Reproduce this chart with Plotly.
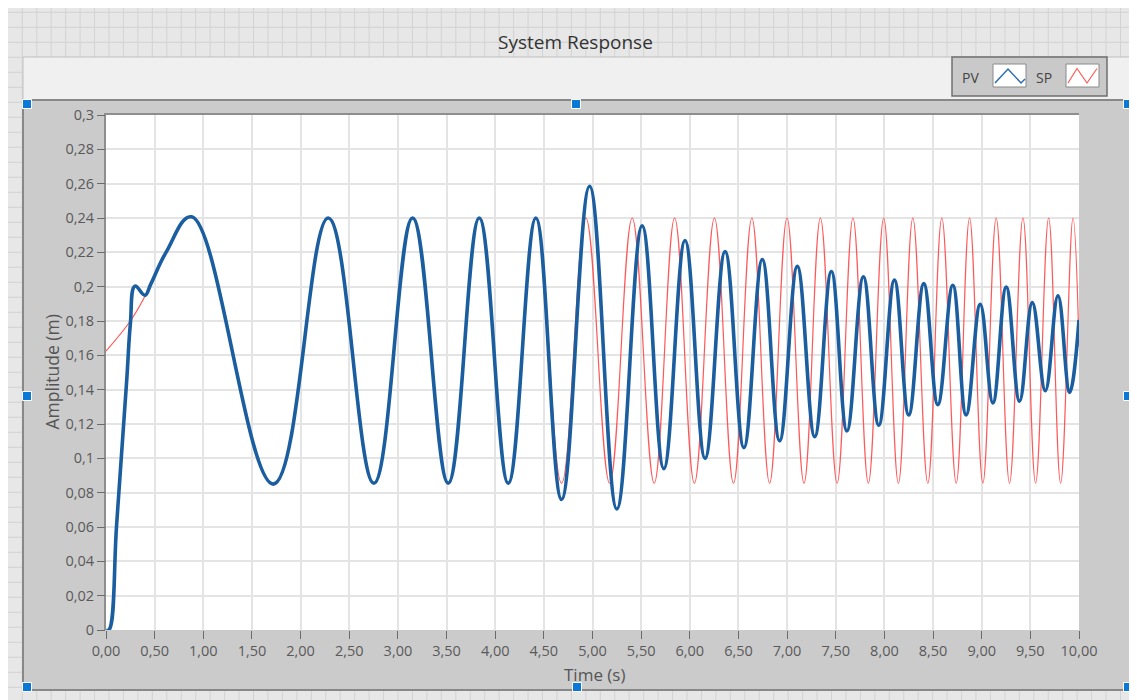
import plotly.graph_objects as go

# ---------------- data ----------------
sp_time = [0.0, 0.25, 0.40, 0.46, 0.62, 0.88, 1.72, 2.284, 2.753, 3.151, 3.517, 3.836,
           4.134, 4.418, 4.682, 4.932, 5.176, 5.408, 5.634, 5.844, 6.047, 6.253, 6.449,
           6.638, 6.820, 6.999, 7.174, 7.342, 7.514, 7.677, 7.835, 7.993, 8.144, 8.292,
           8.446, 8.590, 8.738, 8.875, 9.012, 9.149, 9.286, 9.424, 9.554, 9.688, 9.811,
           9.938, 10.0]
sp_value = [0.1625, 0.180, 0.1944, 0.2015, 0.2203, 0.2407, 0.085, 0.240, 0.0855, 0.240,
            0.0855, 0.240, 0.0855, 0.240, 0.0855, 0.240, 0.0855, 0.240, 0.0855, 0.240,
            0.0855, 0.240, 0.0855, 0.240, 0.0855, 0.240, 0.0855, 0.240, 0.0855, 0.240,
            0.0855, 0.240, 0.0855, 0.240, 0.0855, 0.240, 0.0855, 0.240, 0.0855, 0.240,
            0.0855, 0.240, 0.0855, 0.240, 0.0855, 0.240, 0.165]

pv_time = [0.0, 0.03, 0.11, 0.213, 0.25, 0.298, 0.40, 0.46, 0.62, 0.88, 1.72, 2.284,
           2.753, 3.151, 3.517, 3.836, 4.134, 4.418, 4.682, 4.970, 5.250, 5.510, 5.733,
           5.951, 6.157, 6.363, 6.556, 6.745, 6.923, 7.105, 7.284, 7.455, 7.615, 7.784,
           7.942, 8.103, 8.250, 8.405, 8.549, 8.703, 8.840, 8.985, 9.115, 9.252, 9.389,
           9.520, 9.654, 9.784, 9.904, 10.0]
pv_value = [0.0, 0.0, 0.062, 0.1456, 0.178, 0.2003, 0.195, 0.2015, 0.2203, 0.2407, 0.085,
            0.240, 0.0855, 0.240, 0.0855, 0.240, 0.0855, 0.240, 0.076, 0.2585, 0.0705,
            0.2355, 0.094, 0.2269, 0.100, 0.2205, 0.1062, 0.2158, 0.1102, 0.2118, 0.1126,
            0.2088, 0.116, 0.2058, 0.1193, 0.2038, 0.1253, 0.2018, 0.1313, 0.2008, 0.1253,
            0.1897, 0.1323, 0.1998, 0.1333, 0.1907, 0.1394, 0.1947, 0.1384, 0.1806]

x_tick_vals = [0, 0.5, 1, 1.5, 2, 2.5, 3, 3.5, 4, 4.5, 5, 5.5, 6, 6.5, 7, 7.5, 8, 8.5,
               9, 9.5, 10]
x_tick_text = ["0,00", "0,50", "1,00", "1,50", "2,00", "2,50", "3,00", "3,50", "4,00",
               "4,50", "5,00", "5,50", "6,00", "6,50", "7,00", "7,50", "8,00", "8,50",
               "9,00", "9,50", "10,00"]
y_tick_vals = [0, 0.02, 0.04, 0.06, 0.08, 0.1, 0.12, 0.14, 0.16, 0.18, 0.2, 0.22, 0.24,
               0.26, 0.28, 0.3]
y_tick_text = ["0", "0,02", "0,04", "0,06", "0,08", "0,1", "0,12", "0,14", "0,16",
               "0,18", "0,2", "0,22", "0,24", "0,26", "0,28", "0,3"]

# ---------------- geometry (screen pixels; page body has an 8px margin) ----------------
OFF = 8
W, H = 1137 - OFF, 700 - OFF
L, R, T, B = 106, 1079, 115, 630


def px(x):
    return (x - L) / (R - L)


def py(y):
    return (B - y) / (B - T)


FONT = "Open Sans"
shapes = []


def rect(x0, y0, x1, y1, fill, line="rgba(0,0,0,0)", lw=0):
    shapes.append(dict(type="rect", xref="paper", yref="paper", layer="below",
                       x0=px(x0), x1=px(x1), y0=py(y1), y1=py(y0),
                       fillcolor=fill, line=dict(color=line, width=lw)))


def path(points, color, width):
    d = ""
    for seg in points:
        for i, (x, y) in enumerate(seg):
            d += ("M" if i == 0 else "L") + f"{px(x):.5f},{py(y):.5f} "
    shapes.append(dict(type="path", xref="paper", yref="paper", layer="below",
                       path=d.strip(), line=dict(color=color, width=width)))


# background (LabVIEW panel grid)
grid_segs = []
gx = 22.3
while gx < 1140:
    grid_segs.append([(gx, OFF), (gx, 702)])
    gx += 14.45
gy = 12.3
while gy < 702:
    grid_segs.append([(OFF, gy), (1140, gy)])
    gy += 15.0
path(grid_segs, "#d3d3d3", 1)

# legend strip & frame
rect(23, 57, 1133, 100, "#f0f0f0", "#c2c2c2", 1)
rect(23, 100, 1132, 690, "#cbcbcb", "#888888", 2)
rect(L, T, R, B, "white")
path([[(105, B), (105, 114), (R, 114)]], "#8e8e8e", 2)

# legend box
rect(952, 57, 1107, 96, "#c9c9c9", "#6f6f6f", 1.5)
rect(993, 64, 1026, 87, "white", "#8a8a8a", 1)
rect(1066, 64, 1099, 87, "white", "#8a8a8a", 1)
path([[(995, 83), (1008, 69), (1021, 83), (1025, 79)]], "#2a6fb0", 1.5)
path([[(1068, 83), (1077, 68.5), (1087, 83), (1097, 68.5)]], "#ff5a5a", 1.2)

# selection handles
for hx, hy in [(27, 104), (576, 104), (1128, 104), (27, 396), (1128, 396),
               (27, 687), (577, 687), (1128, 687)]:
    rect(hx - 4.5, hy - 4.5, hx + 4.5, hy + 4.5, "#0a78d7", "white", 1)

annotations = [
    dict(text="System Response", x=px(575), y=py(42), xref="paper", yref="paper",
         showarrow=False, xanchor="center", yanchor="middle",
         font=dict(family=FONT, size=19, color="#333333")),
    dict(text="Time (s)", x=px(594), y=py(674), xref="paper", yref="paper",
         showarrow=False, xanchor="center", yanchor="middle",
         font=dict(family=FONT, size=17, color="#555555")),
    dict(text="Amplitude (m)", x=px(51.5), y=py(372), xref="paper", yref="paper",
         showarrow=False, xanchor="center", yanchor="middle", textangle=-90,
         font=dict(family=FONT, size=17.5, color="#555555")),
    dict(text="PV", x=px(970), y=py(77), xref="paper", yref="paper",
         showarrow=False, xanchor="center", yanchor="middle",
         font=dict(family=FONT, size=14, color="#444444")),
    dict(text="SP", x=px(1044), y=py(77), xref="paper", yref="paper",
         showarrow=False, xanchor="center", yanchor="middle",
         font=dict(family=FONT, size=14, color="#444444")),
]

fig = go.Figure()
fig.add_trace(go.Scatter(x=sp_time, y=sp_value, mode="lines", name="SP",
                         line=dict(color="rgba(255,70,70,0.9)", width=1.2,
                                   shape="spline", smoothing=1.15)))
fig.add_trace(go.Scatter(x=pv_time, y=pv_value, mode="lines", name="PV",
                         line=dict(color="#1b5e9f", width=3.6,
                                   shape="spline", smoothing=1.15)))

axis_common = dict(showgrid=True, gridcolor="#e4e4e4", gridwidth=1.5, zeroline=False,
                   showline=False, ticks="outside", ticklen=8, tickwidth=1,
                   tickcolor="#6a6a6a", fixedrange=True,
                   tickfont=dict(family=FONT, size=14.5, color="#5a5a5a"))

fig.update_layout(
    width=W, height=H,
    margin=dict(l=L - OFF, r=(OFF + W) - R, t=T - OFF, b=(OFF + H) - B, pad=0),
    paper_bgcolor="#e7e7e7", plot_bgcolor="white",
    showlegend=False,
    xaxis=dict(range=[0, 10], tickvals=x_tick_vals, ticktext=x_tick_text, **axis_common),
    yaxis=dict(range=[0, 0.3], tickvals=y_tick_vals, ticktext=y_tick_text, **axis_common),
    shapes=shapes, annotations=annotations,
)

fig.write_html("out.html")
